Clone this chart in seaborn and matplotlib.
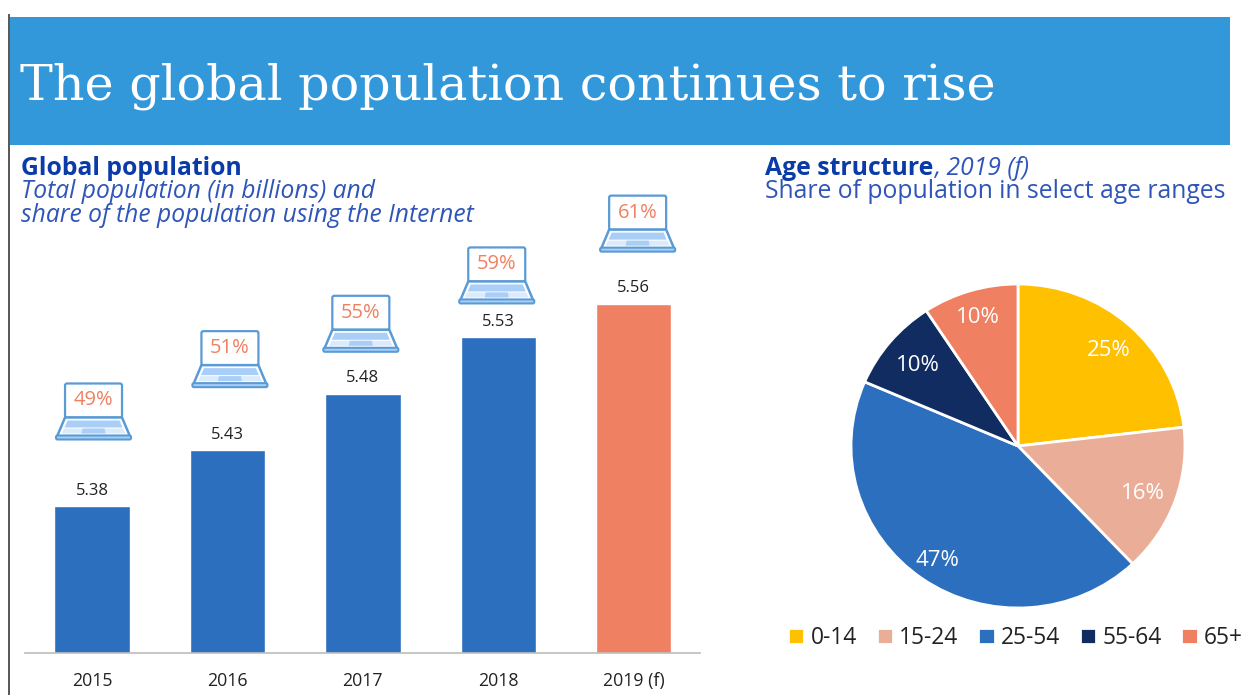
import matplotlib
matplotlib.use("Agg")
import matplotlib.pyplot as plt
from matplotlib.patches import Rectangle, Polygon, FancyBboxPatch
from matplotlib.transforms import Affine2D
import seaborn as sns

# Global population panel
years = ["2015", "2016", "2017", "2018", "2019 (f)"]
population = [5.38, 5.43, 5.48, 5.53, 5.56]
internet_share = [49, 51, 55, 59, 61]
bar_colors = ["#2C6FBF", "#2C6FBF", "#2C6FBF", "#2C6FBF", "#EF8062"]

# Age structure panel
age_groups = ["0-14", "15-24", "25-54", "55-64", "65+"]
age_share = [25, 16, 47, 10, 10]
age_colors = ["#FFC000", "#EAAE98", "#2C6FBF", "#112C60", "#EF8062"]

# Layout of the laptop icons above the bars, in pixels
icon_gap = [67, 63, 42, 34, 52]
icon_shift = [1.5, 2.5, -2, -1.5, 4]

# Small pixel nudges for the pie labels (right, down)
label_nudge = [(2, 1), (-1, 3), (-4, 8), (2, 3), (-2, -4)]

W, H = 1243, 695
PIE_RX, PIE_RY = 167, 162
INK_DARK = "#0B3BA7"
INK_SOFT = "#2F55B8"
LAPTOP_LINE = "#5B9BD5"
LAPTOP_FILL = "#A9CFF8"
LAPTOP_PALE = "#DCEBFB"

sns.set_theme(style="white")
plt.rcParams["font.family"] = ["Open Sans", "DejaVu Sans"]

fig = plt.figure(figsize=(W / 100, H / 100), dpi=100, facecolor="white")


def axes_px(left, top, right, bottom):
    return fig.add_axes([left / W, 1 - bottom / H, (right - left) / W, (bottom - top) / H])


def text_px(x, y, s, **kw):
    return fig.text(x / W, 1 - y / H, s, va="baseline", **kw)


# Page furniture: header band and left rule
fig.patches.append(Rectangle((10 / W, 1 - 145 / H), 1220 / W, 128 / H,
                             transform=fig.transFigure, fc="#3298DA", ec="none"))
fig.patches.append(Rectangle((8 / W, 0), 2.5 / W, 1 - 14 / H,
                             transform=fig.transFigure, fc="#5A5A5A", ec="none"))
text_px(20, 100, "The global population continues to rise",
        family="DejaVu Serif", fontsize=35.4, color="white")

text_px(21, 175, "Global population", fontsize=17.8, fontweight="bold", color=INK_DARK)
text_px(21, 198, "Total population (in billions) and", fontsize=17.7, style="italic", color=INK_SOFT)
text_px(21, 222, "share of the population using the Internet", fontsize=17.7, style="italic", color=INK_SOFT)

head = text_px(765, 175, "Age structure", fontsize=17.8, fontweight="bold", color=INK_DARK)
fig.canvas.draw()
head_box = head.get_window_extent()
text_px(head_box.x1 + 1, 175, ", 2019 (f)", fontsize=17.7, style="italic", color=INK_SOFT)
text_px(765, 198, "Share of population in select age ranges", fontsize=17.8, color=INK_SOFT)

# Bars
ax = axes_px(25, 190, 700, 653)
sns.barplot(x=years, y=population, hue=years, palette=bar_colors, width=0.557,
            legend=False, saturation=1, ax=ax)
ax.set_xlim(-0.495, 4.49)
ax.set_ylim(5.25, 5.25 + (653 - 190) / 1127)
ax.patch.set_alpha(0)
sns.despine(ax=ax, left=True)
ax.spines["bottom"].set_color("#BFBFBF")
ax.yaxis.set_visible(False)
ax.tick_params(axis="x", length=0, pad=14, labelsize=12.8, labelcolor="#222222")
for container in ax.containers:
    ax.bar_label(container, fmt="%.2f", padding=5.5, fontsize=12, color="#222222")


def draw_laptop(center_x, bottom_y, share):
    """Draw a laptop icon whose base sits at the given display position."""
    tr = Affine2D().translate(center_x, bottom_y)
    parts = [
        FancyBboxPatch((-28.5, 22), 57, 34, boxstyle="round,pad=0,rounding_size=2",
                       fc="white", ec=LAPTOP_LINE, lw=1.6),
        Polygon([(-36.5, 3), (-28.5, 22), (28.5, 22), (36.5, 3)], closed=True,
                fc="white", ec=LAPTOP_LINE, lw=1.8),
        Polygon([(-29, 12), (-26, 19), (26, 19), (29, 12)], closed=True,
                fc=LAPTOP_FILL, ec="none"),
        Polygon([(-32, 6), (-29.5, 11), (29.5, 11), (32, 6)], closed=True,
                fc=LAPTOP_PALE, ec="none"),
        Polygon([(-12, 6), (-11, 11), (11, 11), (12, 6)], closed=True,
                fc=LAPTOP_FILL, ec="none"),
        FancyBboxPatch((-37.5, 0), 75, 4, boxstyle="round,pad=0,rounding_size=1.5",
                       fc=LAPTOP_FILL, ec=LAPTOP_LINE, lw=1.5),
    ]
    for part in parts:
        part.set_transform(tr)
        part.set_clip_on(False)
        fig.add_artist(part)
    fig.text(center_x / W, (bottom_y + 39) / H, f"{share}%", ha="center", va="center",
             fontsize=14.5, color="#EF8062")


for i, (value, share) in enumerate(zip(population, internet_share)):
    x_disp, y_disp = ax.transData.transform((i, value))
    draw_laptop(x_disp + icon_shift[i], y_disp + icon_gap[i], share)

# Pie, very slightly flattened
ax_pie = axes_px(1018 - PIE_RX * 1.25, 446 - PIE_RY * 1.25, 1018 + PIE_RX * 1.25, 446 + PIE_RY * 1.25)
wedges, labels = ax_pie.pie(age_share, colors=age_colors, startangle=90, counterclock=False,
                            labels=[f"{v}%" for v in age_share], labeldistance=0.8,
                            wedgeprops={"edgecolor": "white", "linewidth": 2},
                            textprops={"color": "white", "fontsize": 16})
ax_pie.set_aspect("auto")
for label, (dx, dy) in zip(labels, label_nudge):
    label.set_horizontalalignment("center")
    label.set_verticalalignment("center")
    x, y = label.get_position()
    label.set_position((x + dx / PIE_RX, y - dy / PIE_RY))

fig.legend(wedges, age_groups, loc="center left", bbox_to_anchor=(788 / W, 1 - 638 / H),
           ncols=5, frameon=False, fontsize=16.4, labelcolor="#222222",
           handlelength=0.72, handleheight=0.72, handletextpad=0.28,
           columnspacing=0.86, borderpad=0, borderaxespad=0)

fig.savefig("out.png", dpi=100)
